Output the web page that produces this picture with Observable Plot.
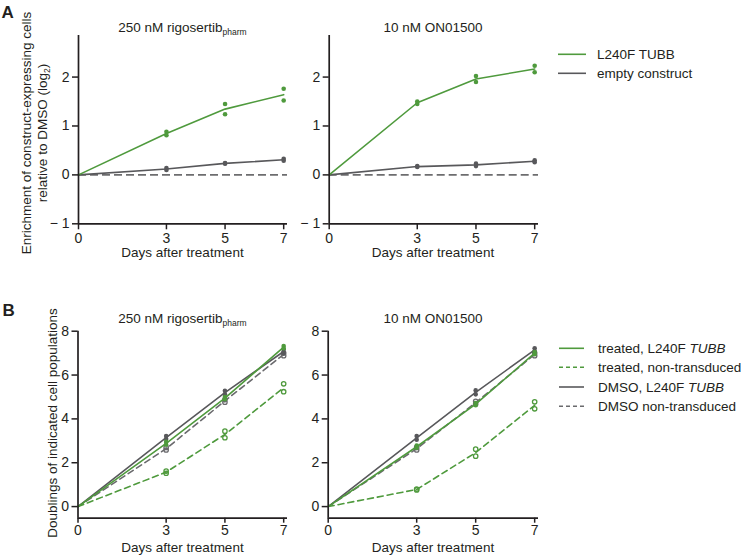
<!DOCTYPE html>
<html>
<head>
<meta charset="utf-8">
<script src="https://cdn.jsdelivr.net/npm/d3@7"></script>
<script src="https://cdn.jsdelivr.net/npm/@observablehq/plot@0.6"></script>
<style>
  html, body { margin: 0; padding: 0; background: #fff; }
  #root { position: relative; width: 744px; height: 555px; overflow: hidden; font-family: "Liberation Sans", Arial, sans-serif; }
  #root > svg, #root > figure { position: absolute; margin: 0; }
  .overlay { left: 0; top: 0; pointer-events: none; }
</style>
</head>
<body>
<div id="root"></div>
<script>
// ---------- data ----------
const days = [0, 3, 5, 7];
const xTicks = [0, 3, 5, 7];
const yTicksA = [-1, 0, 1, 2];
const yTicksB = [0, 2, 4, 6, 8];

// Panel A — enrichment (log2), two replicates per day
const aRigoL240F_r1  = [0, 0.88, 1.45, 1.76];
const aRigoL240F_r2  = [0, 0.81, 1.24, 1.52];
const aRigoEmpty_r1  = [0, 0.14, 0.24, 0.33];
const aRigoEmpty_r2  = [0, 0.10, 0.23, 0.29];

const aOnL240F_r1    = [0, 1.50, 2.02, 2.23];
const aOnL240F_r2    = [0, 1.45, 1.90, 2.10];
const aOnEmpty_r1    = [0, 0.18, 0.23, 0.30];
const aOnEmpty_r2    = [0, 0.16, 0.18, 0.26];

// Panel B — population doublings, two replicates per day
const bRigoTreatedL240F_r1 = [0, 2.95, 5.00, 7.32];
const bRigoTreatedL240F_r2 = [0, 2.82, 4.90, 7.22];
const bRigoTreatedNT_r1    = [0, 1.62, 3.44, 5.60];
const bRigoTreatedNT_r2    = [0, 1.52, 3.14, 5.24];
const bRigoDmsoL240F_r1    = [0, 3.22, 5.28, 7.15];
const bRigoDmsoL240F_r2    = [0, 3.08, 5.12, 7.00];
const bRigoDmsoNT_r1       = [0, 2.70, 4.88, 7.00];
const bRigoDmsoNT_r2       = [0, 2.58, 4.76, 6.88];

const bOnTreatedL240F_r1 = [0, 2.78, 4.72, 7.05];
const bOnTreatedL240F_r2 = [0, 2.68, 4.62, 6.95];
const bOnTreatedNT_r1    = [0, 0.80, 2.62, 4.78];
const bOnTreatedNT_r2    = [0, 0.76, 2.30, 4.46];
const bOnDmsoL240F_r1    = [0, 3.22, 5.30, 7.22];
const bOnDmsoL240F_r2    = [0, 3.05, 5.12, 7.08];
const bOnDmsoNT_r1       = [0, 2.70, 4.80, 7.00];
const bOnDmsoNT_r2       = [0, 2.58, 4.68, 6.88];

// ---------- styling ----------
const GREEN = "#4f9a3d";
const GRAY = "#58585b";
const GRAY_D = "#6a6a6d";
const INK = "#231f20";
const FONT = "'Liberation Sans', Arial, sans-serif";

function rows(series, r1, r2) {
  return days.flatMap((day, i) => [
    {series, day, value: r1[i]},
    {series, day, value: r2[i]}
  ]);
}

function seriesMarks(data, color, dashed, open) {
  const pts = data.filter(d => d.day > 0);
  return [
    Plot.lineY(data, Plot.groupX({y: "mean"}, {
      x: "day", y: "value", stroke: color, strokeWidth: 1.6,
      strokeDasharray: dashed ? "6,4" : null
    })),
    open
      ? Plot.dot(pts, {x: "day", y: "value", r: 2.2, stroke: color, strokeWidth: 1.3, fill: "none"})
      : Plot.dot(pts, {x: "day", y: "value", r: 2.3, fill: color, stroke: "none"})
  ];
}

const tickFmt = (d) => d < 0 ? "\u2212 " + (-d) : String(d);

function panel({left, top, mLeft, mRight, mTop, mBottom, yDomain, yTicks, xTickSize, xTickPad, marks}) {
  const chart = Plot.plot({
    width: 300, height: 265,
    marginLeft: mLeft, marginRight: mRight, marginTop: mTop, marginBottom: mBottom,
    style: {fontFamily: FONT, fontSize: "14px", color: INK, background: "transparent", overflow: "visible"},
    x: {domain: [0, 7.13]},
    y: {domain: yDomain},
    marks: [
      ...marks,
      Plot.ruleX([0], {stroke: INK, strokeWidth: 1.7}),
      Plot.ruleY([yDomain[0]], {stroke: INK, strokeWidth: 1.7}),
      Plot.axisX({ticks: xTicks, tickFormat: tickFmt, tickSize: xTickSize, tickPadding: xTickPad, label: null, stroke: INK, strokeWidth: 1.5, fontSize: 14, fill: INK}),
      Plot.axisY({ticks: yTicks, tickFormat: tickFmt, tickSize: 6, tickPadding: 3, label: null, stroke: INK, strokeWidth: 1.5, fontSize: 14, fill: INK})
    ]
  });
  chart.style.left = left + "px";
  chart.style.top = top + "px";
  return chart;
}

const root = document.getElementById("root");

// Panel A, left
root.appendChild(panel({
  left: 0, top: 0, mLeft: 78, mRight: 13, mTop: 35, mBottom: 41.7,
  yDomain: [-1, 2.85], yTicks: yTicksA, xTickSize: 6, xTickPad: 3,
  marks: [
    Plot.ruleY([0], {stroke: "#6d6d6f", strokeWidth: 1.6, strokeDasharray: "8,4"}),
    ...seriesMarks(rows("empty", aRigoEmpty_r1, aRigoEmpty_r2), GRAY, false, false),
    ...seriesMarks(rows("L240F", aRigoL240F_r1, aRigoL240F_r2), GREEN, false, false)
  ]
}));
// Panel A, right
root.appendChild(panel({
  left: 250, top: 0, mLeft: 78.7, mRight: 12, mTop: 35, mBottom: 41.7,
  yDomain: [-1, 2.85], yTicks: yTicksA, xTickSize: 6, xTickPad: 3,
  marks: [
    Plot.ruleY([0], {stroke: "#6d6d6f", strokeWidth: 1.6, strokeDasharray: "8,4"}),
    ...seriesMarks(rows("empty", aOnEmpty_r1, aOnEmpty_r2), GRAY, false, false),
    ...seriesMarks(rows("L240F", aOnL240F_r1, aOnL240F_r2), GREEN, false, false)
  ]
}));
// Panel B, left
root.appendChild(panel({
  left: 0, top: 290, mLeft: 77.5, mRight: 13, mTop: 40.7, mBottom: 37.3,
  yDomain: [-0.53, 8], yTicks: yTicksB, xTickSize: 5, xTickPad: 1.5,
  marks: [
    ...seriesMarks(rows("dmsoNT", bRigoDmsoNT_r1, bRigoDmsoNT_r2), GRAY_D, true, true),
    ...seriesMarks(rows("dmsoL240F", bRigoDmsoL240F_r1, bRigoDmsoL240F_r2), GRAY, false, false),
    ...seriesMarks(rows("treatedNT", bRigoTreatedNT_r1, bRigoTreatedNT_r2), GREEN, true, true),
    ...seriesMarks(rows("treatedL240F", bRigoTreatedL240F_r1, bRigoTreatedL240F_r2), GREEN, false, false)
  ]
}));
// Panel B, right
root.appendChild(panel({
  left: 250, top: 290, mLeft: 77.7, mRight: 12, mTop: 40.7, mBottom: 37.3,
  yDomain: [-0.53, 8], yTicks: yTicksB, xTickSize: 5, xTickPad: 1.5,
  marks: [
    ...seriesMarks(rows("dmsoNT", bOnDmsoNT_r1, bOnDmsoNT_r2), GRAY_D, true, true),
    ...seriesMarks(rows("dmsoL240F", bOnDmsoL240F_r1, bOnDmsoL240F_r2), GRAY, false, false),
    ...seriesMarks(rows("treatedNT", bOnTreatedNT_r1, bOnTreatedNT_r2), GREEN, true, true),
    ...seriesMarks(rows("treatedL240F", bOnTreatedL240F_r1, bOnTreatedL240F_r2), GREEN, false, false)
  ]
}));

// ---------- text overlay: panel letters, titles, axis labels, legends ----------
const legendA = [
  {label: "L240F TUBB", italic: "", color: GREEN, dash: null},
  {label: "empty construct", italic: "", color: GRAY, dash: null}
];
const legendB = [
  {label: "treated, L240F ", italic: "TUBB", color: GREEN, dash: null},
  {label: "treated, non-transduced", italic: "", color: GREEN, dash: "4,3"},
  {label: "DMSO, L240F ", italic: "TUBB", color: GRAY, dash: null},
  {label: "DMSO non-transduced", italic: "", color: GRAY_D, dash: "4,3"}
];
function legendSvg(items, x0, x1, tx, ys) {
  return items.map((it, i) => `
    <line x1="${x0}" x2="${x1}" y1="${ys[i]}" y2="${ys[i]}" stroke="${it.color}" stroke-width="1.6" ${it.dash ? `stroke-dasharray="${it.dash}"` : ""}/>
    <text x="${tx}" y="${ys[i] + 4.6}">${it.label}${it.italic ? `<tspan font-style="italic">${it.italic}</tspan>` : ""}</text>`).join("");
}
const sub = (s) => `<tspan font-size="8.5" dy="3">${s}</tspan>`;
const overlay = `
<svg class="overlay" width="744" height="555" xmlns="http://www.w3.org/2000/svg" font-family="${FONT}" font-size="13.5" fill="${INK}">
  <text x="1.5" y="18.3" font-size="17" font-weight="bold">A</text>
  <text x="2.5" y="316" font-size="17" font-weight="bold">B</text>

  <text x="182.5" y="31.7" text-anchor="middle">250 nM rigosertib${sub("pharm")}</text>
  <text x="433" y="31.7" text-anchor="middle">10 nM ON01500</text>
  <text x="182.5" y="322.7" text-anchor="middle">250 nM rigosertib${sub("pharm")}</text>
  <text x="433" y="322.7" text-anchor="middle">10 nM ON01500</text>

  <text x="182.5" y="256.5" text-anchor="middle">Days after treatment</text>
  <text x="433" y="256.5" text-anchor="middle">Days after treatment</text>
  <text x="182.5" y="551.5" text-anchor="middle">Days after treatment</text>
  <text x="433" y="551.5" text-anchor="middle">Days after treatment</text>

  <text transform="translate(30.6,133) rotate(-90)" text-anchor="middle">Enrichment of construct-expressing cells</text>
  <text transform="translate(47.4,133) rotate(-90)" text-anchor="middle">relative to DMSO (log${sub("2")}<tspan dy="-3">)</tspan></text>
  <text transform="translate(57,423) rotate(-90)" text-anchor="middle">Doublings of indicated cell populations</text>

  ${legendSvg(legendA, 558, 586, 597, [54.3, 73.3])}
  ${legendSvg(legendB, 559, 584, 598, [348.3, 367.3, 387, 406.3])}
</svg>`;
root.insertAdjacentHTML("beforeend", overlay);
</script>
</body>
</html>
